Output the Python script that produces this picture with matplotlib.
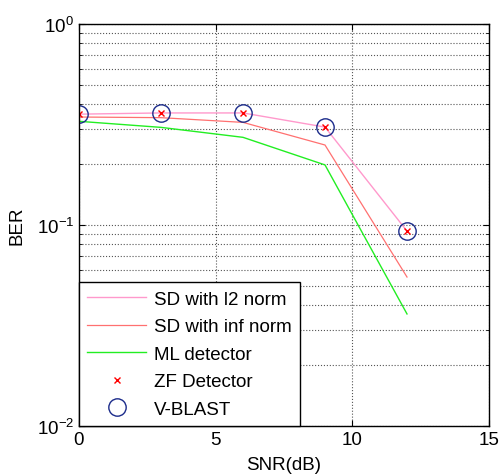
import matplotlib
matplotlib.use("Agg")
import matplotlib.pyplot as plt
import numpy as np

snr = [0, 3, 6, 9, 12]
ber_l2 = [0.356, 0.361, 0.361, 0.307, 0.0933]
ber_inf = [0.3445, 0.342, 0.324, 0.250, 0.0551]
ber_ml = [0.328, 0.306, 0.273, 0.199, 0.0361]
ber_zf = [0.356, 0.361, 0.361, 0.307, 0.0933]
ber_vblast = [0.356, 0.361, 0.361, 0.307, 0.0933]

plt.rcParams['font.family'] = ['Liberation Sans', 'DejaVu Sans']

fig = plt.figure(figsize=(5.01, 4.77), dpi=100)
ax = fig.add_axes([79/501, 1 - 427/477, 410/501, 402/477])

ax.semilogy(snr, ber_l2, color='#ff99cc', lw=1.0, label='SD with l2 norm')
ax.semilogy(snr, ber_inf, color='#ff7070', lw=0.9, label='SD with inf norm')
ax.semilogy(snr, ber_ml, color='#22ee22', lw=1.0, label='ML detector')
ax.semilogy(snr, ber_zf, linestyle='none', marker='x', color='red', ms=4.5, mew=1.0, label='ZF Detector')
ax.semilogy(snr, ber_vblast, linestyle='none', marker='o', mfc='none', mec='#1a2a8a', ms=12.5, mew=1.0, label='V-BLAST')

ax.set_xlim(0, 15)
ax.set_ylim(1e-2, 1)
ax.set_xticks([0, 5, 10, 15])
ax.grid(True, which='major', color='#555555', linestyle=':', lw=0.8)
ax.grid(True, which='minor', axis='y', color='#555555', linestyle=':', lw=0.8)
ax.tick_params(which='both', direction='in', top=True, right=True, labelsize=13.5)
ax.tick_params(which='minor', length=2)
ax.tick_params(which='major', length=4)
for s in ax.spines.values():
    s.set_linewidth(1.0)

ax.set_xlabel('SNR(dB)', fontsize=13.5, labelpad=6)
ax.set_ylabel('BER', fontsize=13.5, labelpad=8)

leg = ax.legend(loc='lower left', fontsize=13.5, frameon=True, fancybox=False,
                edgecolor='black', framealpha=1, borderaxespad=0,
                handlelength=3.1, handletextpad=0.45, labelspacing=0.55, borderpad=0.45)
leg.get_frame().set_linewidth(1.0)

fig.savefig('out.png', dpi=100)
